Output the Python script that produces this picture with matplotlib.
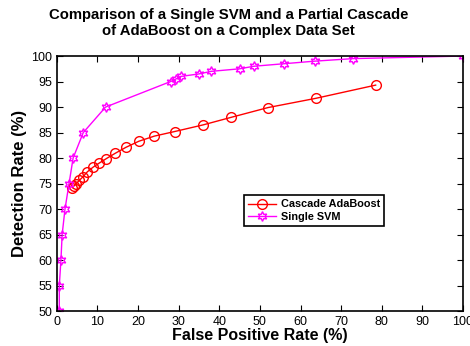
import matplotlib
matplotlib.use('Agg')
import matplotlib.pyplot as plt

plt.rcParams['font.family'] = ['Liberation Sans', 'DejaVu Sans']

# Cascade AdaBoost (false positive %, detection %)
ada_fp = [3.8, 4.3, 4.8, 5.5, 6.4, 7.5, 8.9, 10.4, 12.2, 14.3, 17, 20.2, 24, 29, 36, 43, 52, 63.7, 78.5]
ada_dr = [74.2, 74.6, 75, 75.6, 76.3, 77.3, 78.2, 79, 79.9, 80.9, 82.1, 83.3, 84.3, 85.2, 86.5, 88, 89.9, 91.7, 94.3]

# Single SVM
svm_fp = [0.6, 0.6, 1, 1.3, 2, 3, 4, 6.5, 12, 28, 29.3, 30.5, 35, 38, 45, 48.5, 56, 63.5, 73, 100]
svm_dr = [50, 55, 60, 65, 70, 75, 80, 85, 90, 95, 95.5, 96, 96.5, 97, 97.5, 98, 98.5, 99, 99.5, 100]

fig = plt.figure(figsize=(4.7, 3.46), dpi=100)
ax = fig.add_axes([0.121, 0.101, 0.864, 0.737])

ax.plot(ada_fp, ada_dr, color='red', marker='o', markersize=7, mfc='none',
        mew=1, lw=1, label='Cascade AdaBoost')
ax.plot(svm_fp, svm_dr, color='magenta', marker=(6, 1, 0), markersize=7, mfc='none',
        mew=1, lw=1, label='Single SVM')

ax.set_xlim(0, 100)
ax.set_ylim(50, 100)
ax.set_xticks(range(0, 101, 10))
ax.set_yticks(range(50, 101, 5))
ax.tick_params(direction='in', top=True, right=True, labelsize=9, length=4)
for s in ax.spines.values():
    s.set_linewidth(1.2)

ax.set_xlabel('False Positive Rate (%)', fontsize=11.5, fontweight='bold', labelpad=0)
ax.set_ylabel('Detection Rate (%)', fontsize=12, fontweight='bold', labelpad=3)
fig.text(0.486, 0.977, 'Comparison of a Single SVM and a Partial Cascade\nof AdaBoost on a Complex Data Set',
         ha='center', va='top', multialignment='center',
         fontsize=10.7, fontweight='bold', linespacing=1.15)

leg = ax.legend(loc='upper left', bbox_to_anchor=(0.46, 0.455), fancybox=False,
                edgecolor='black', prop={'weight': 'bold', 'size': 7.8},
                handlelength=2.6, handletextpad=0.4, borderpad=0.4,
                labelspacing=0.25, borderaxespad=0, framealpha=1)
leg.get_frame().set_linewidth(1.2)

fig.savefig('out.png', dpi=100)
